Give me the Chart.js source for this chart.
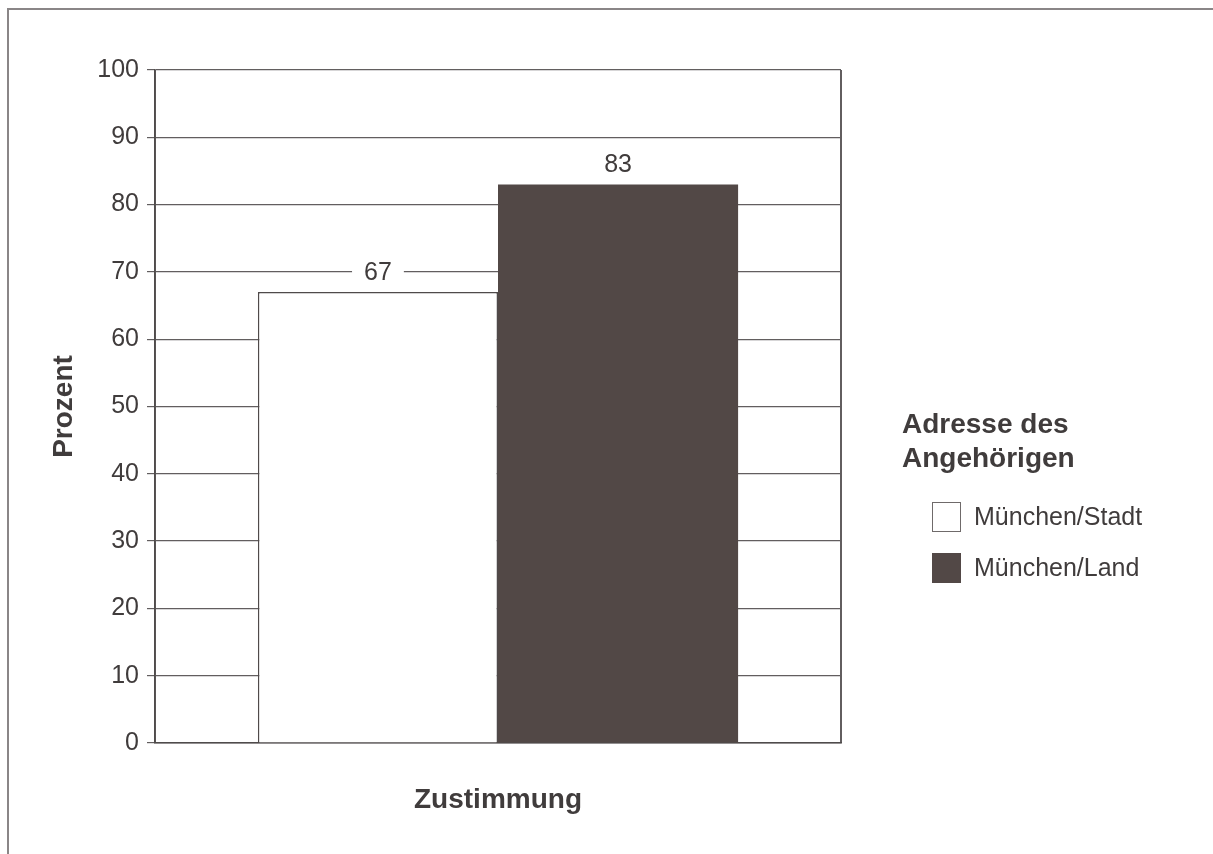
<!DOCTYPE html>
<html>
<head>
<meta charset="utf-8">
<script src="https://cdn.jsdelivr.net/npm/chart.js@4.4.1/dist/chart.umd.min.js"></script>
<style>
  html, body { margin: 0; padding: 0; background: #fff; }
  #wrap { position: relative; width: 1213px; height: 854px; }
  #frame {
    position: absolute; left: 7px; top: 8px; right: 0; bottom: 0;
    border-top: 2px solid #8a8687; border-left: 2px solid #8a8687;
    pointer-events: none;
  }
  #chart { position: absolute; left: 0; top: 0; }
</style>
</head>
<body>
<div id="wrap">
  <div id="frame"></div>
  <canvas id="chart" width="1213" height="854"></canvas>
</div>
<script>
// Survey result: share of agreement by the relative's address
const categories = ['Zustimmung'];
const seriesNames = ['München/Stadt', 'München/Land'];
const stadtValues = [67];
const landValues = [83];
const yTickValues = [0, 10, 20, 30, 40, 50, 60, 70, 80, 90, 100];
const legendTitle = ['Adresse des', 'Angehörigen'];
const yTitle = 'Prozent';

const FONT = "'Liberation Sans', Arial, Helvetica, sans-serif";
const TEXT = '#403c3c';
const DARK = '#524846';
const GRID = '#625e5f';

// Value labels above each bar, on a white backing that breaks the gridline
const valueLabels = {
  id: 'valueLabels',
  afterDatasetsDraw(chart) {
    const ctx = chart.ctx;
    ctx.save();
    ctx.font = '25px ' + FONT;
    ctx.textAlign = 'center';
    ctx.textBaseline = 'middle';
    chart.data.datasets.forEach((ds, i) => {
      chart.getDatasetMeta(i).data.forEach((bar, j) => {
        const txt = String(ds.data[j]);
        const w = ctx.measureText(txt).width;
        const cy = bar.y - 19;
        ctx.fillStyle = '#fff';
        ctx.fillRect(bar.x - w / 2 - 12, cy - 13, w + 24, 26);
        ctx.fillStyle = TEXT;
        ctx.fillText(txt, bar.x, cy);
      });
    });
    ctx.restore();
  }
};

// Legend block on the right with a two-line bold heading
const sideLegend = {
  id: 'sideLegend',
  afterDraw(chart) {
    const ctx = chart.ctx;
    ctx.save();
    ctx.fillStyle = TEXT;
    ctx.textAlign = 'left';
    ctx.textBaseline = 'middle';
    ctx.font = 'bold 28px ' + FONT;
    legendTitle.forEach((line, i) => ctx.fillText(line, 902, 425 + i * 34));
    ctx.font = '25px ' + FONT;
    chart.data.datasets.forEach((ds, i) => {
      const y = 502 + i * 51;
      ctx.fillStyle = ds.backgroundColor;
      ctx.fillRect(932, y, 29, 30);
      if (ds.borderWidth) {
        ctx.strokeStyle = '#6f6a6a';
        ctx.lineWidth = 1;
        ctx.strokeRect(932.5, y + 0.5, 28, 29);
      }
      ctx.fillStyle = TEXT;
      ctx.fillText(ds.label, 974, y + 16);
    });
    ctx.restore();
  }
};

new Chart(document.getElementById('chart'), {
  type: 'bar',
  data: {
    labels: categories,
    datasets: [
      { label: seriesNames[0], data: stadtValues, backgroundColor: '#ffffff',
        borderColor: '#4f4a4a', borderWidth: 1.5, borderSkipped: 'bottom' },
      { label: seriesNames[1], data: landValues, backgroundColor: DARK, borderWidth: 0 }
    ]
  },
  options: {
    responsive: false,
    animation: false,
    events: [],
    categoryPercentage: 0.7,
    barPercentage: 1.0,
    layout: { padding: { top: 70, right: 372, bottom: 0, left: 0 } },
    plugins: { legend: { display: false }, tooltip: { enabled: false } },
    scales: {
      x: {
        offset: true,
        ticks: { display: false },
        grid: { display: true, offset: true, drawTicks: false, color: GRID, lineWidth: 2 },
        border: { display: true, color: '#4f4b4b', width: 1.5 },
        title: { display: true, text: categories[0], color: TEXT,
                 font: { family: FONT, size: 28, weight: 'bold' }, padding: { top: 0, bottom: 37 } },
        afterFit(s) { s.height = 111; }
      },
      y: {
        min: 0, max: 100,
        afterBuildTicks(s) { s.ticks = yTickValues.map(v => ({ value: v })); },
        ticks: { color: TEXT, font: { family: FONT, size: 25 }, padding: 8 },
        grid: { color: GRID, lineWidth: 1.2, tickLength: 8 },
        border: { display: true, color: '#4f4b4b', width: 1.5 },
        title: { display: true, text: yTitle, color: TEXT,
                 font: { family: FONT, size: 28, weight: 'bold' }, padding: { top: 47, bottom: 0 } },
        afterFit(s) { s.width = 155; }
      }
    }
  },
  plugins: [valueLabels, sideLegend]
});
</script>
</body>
</html>
